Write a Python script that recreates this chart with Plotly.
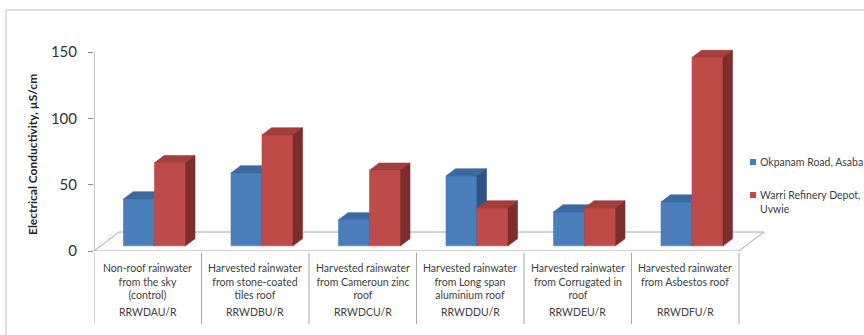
import plotly.graph_objects as go

# ---- data -------------------------------------------------------------
descriptions = [
    "Non-roof rainwater<br>from the sky<br>(control)",
    "Harvested rainwater<br>from stone-coated<br>tiles roof",
    "Harvested rainwater<br>from Cameroun zinc<br>roof",
    "Harvested rainwater<br>from Long span<br>aluminium roof",
    "Harvested rainwater<br>from Corrugated in<br>roof",
    "Harvested rainwater<br>from Asbestos roof",
]
codes = ["RRWDAU/R", "RRWDBU/R", "RRWDCU/R", "RRWDDU/R", "RRWDEU/R", "RRWDFU/R"]
series_names = ["Okpanam Road, Asaba", "Warri Refinery Depot,<br>Uvwie"]
okpanam = [35.4, 55.0, 19.6, 52.7, 25.6, 33.0]
warri = [62.6, 83.6, 57.0, 28.6, 28.6, 142.0]
y_ticks = [0, 50, 100, 150]

# ---- layout geometry (pixels) ------------------------------------------
FIG_W, FIG_H = 864, 335
L, R, T, B = 94, 766, 44, 251
PW, PH = R - L, B - T
CAT_PX = 107.5
PX_PER_UNIT = 1.3267
X_MAX = -0.5 + PW / CAT_PX
Y_MAX = PH / PX_PER_UNIT


def px_x(px):
    return (px - L) / PW


def px_y(py):
    return (B - py) / PH


# oblique 3-D projection, expressed in axis units
FLOOR_DX = 25 / CAT_PX
FLOOR_DY = 19 / PX_PER_UNIT
FRONT = 0.27          # depth fraction where bar front faces sit
DEPTH = 0.38          # bar depth as fraction of floor depth
BAR_W = 31 / CAT_PX

off_x, off_y = FRONT * FLOOR_DX, FRONT * FLOOR_DY
dd_x, dd_y = DEPTH * FLOOR_DX, DEPTH * FLOOR_DY

palette = [
    dict(front="#4A7EBB", top="#3C69A1", side="#2D5384"),
    dict(front="#BE4B48", top="#A23E3B", side="#7D2D2B"),
]

fig = go.Figure()


def faces(values, shift):
    front, top, side = [[], []], [[], []], [[], []]
    for i, v in enumerate(values):
        x0 = i + off_x + shift
        x1 = x0 + BAR_W
        b = off_y
        t = off_y + v
        for poly, xs, ys in (
            (front, [x0, x1, x1, x0, x0], [b, b, t, t, b]),
            (top, [x0, x1, x1 + dd_x, x0 + dd_x, x0], [t, t, t + dd_y, t + dd_y, t]),
            (side, [x1, x1 + dd_x, x1 + dd_x, x1, x1], [b, b + dd_y, t + dd_y, t, b]),
        ):
            poly[0] += xs + [None]
            poly[1] += ys + [None]
    return front, top, side


for s, (name, vals) in enumerate(zip(series_names, [okpanam, warri])):
    shift = -BAR_W if s == 0 else 0.0
    front, top, side = faces(vals, shift)
    for key, poly in (("front", front), ("top", top), ("side", side)):
        fig.add_trace(go.Scatter(
            x=poly[0], y=poly[1], mode="lines", fill="toself",
            fillcolor=palette[s][key],
            line=dict(width=0.6, color=palette[s][key]),
            name=name.replace("<br>", " "), showlegend=False,
            hoverinfo="skip" if key != "front" else "name",
        ))

shapes = []
# floor of the 3-D plot area
floor_x = [-0.5, -0.5 + FLOOR_DX, 5.5 + FLOOR_DX, 5.5]
floor_y = [0, FLOOR_DY, FLOOR_DY, 0]
path = "M " + " L ".join(f"{x},{y}" for x, y in zip(floor_x, floor_y)) + " Z"
shapes.append(dict(type="path", path=path, xref="x", yref="y", layer="below",
                   line=dict(color="#A6A6A6", width=1), fillcolor="white"))
# value axis line
shapes.append(dict(type="line", xref="x", yref="y", x0=-0.5, x1=-0.5, y0=0, y1=150,
                   line=dict(color="#8C8C8C", width=1)))
# category table dividers
for k in range(7):
    shapes.append(dict(type="line", xref="x", yref="paper", x0=k - 0.5, x1=k - 0.5,
                       y0=px_y(253), y1=px_y(324), line=dict(color="#A6A6A6", width=1)))
# chart frame
shapes.append(dict(type="rect", xref="paper", yref="paper",
                   x0=px_x(6), x1=px_x(900), y0=px_y(400), y1=px_y(10),
                   line=dict(color="#BFBFBF", width=1), fillcolor="rgba(0,0,0,0)"))
# legend keys
for s, cy in enumerate([162, 195]):
    shapes.append(dict(type="rect", xref="paper", yref="paper",
                       x0=px_x(750), x1=px_x(756), y0=px_y(cy + 3), y1=px_y(cy - 3),
                       line=dict(width=0), fillcolor=palette[s]["front"]))

FONT = "Lato, 'Open Sans', sans-serif"
TXT = dict(family=FONT, size=10.5, color="#404040")
LEG = dict(family=FONT, size=10.5, color="#404040")
annotations = []
for i, (d, c) in enumerate(zip(descriptions, codes)):
    annotations.append(dict(x=i, y=px_y(260), xref="x", yref="paper", text=d,
                            showarrow=False, xanchor="center", yanchor="top",
                            align="center", font=TXT))
    annotations.append(dict(x=i, y=px_y(312), xref="x", yref="paper", text=c,
                            showarrow=False, xanchor="center", yanchor="middle",
                            font=TXT))
annotations.append(dict(x=px_x(758), y=px_y(162), xref="paper", yref="paper",
                        text=series_names[0], showarrow=False, xanchor="left",
                        yanchor="middle", font=LEG))
annotations.append(dict(x=px_x(758), y=px_y(187), xref="paper", yref="paper",
                        text=series_names[1], showarrow=False, xanchor="left",
                        yanchor="top", align="left", font=LEG))
annotations.append(dict(x=px_x(32), y=px_y(155), xref="paper", yref="paper",
                        text="<b>Electrical Conductivity, µS/cm</b>", textangle=-90,
                        showarrow=False, xanchor="center", yanchor="middle",
                        font=dict(family=FONT, size=12, color="#262626")))

fig.update_layout(
    width=FIG_W, height=FIG_H,
    margin=dict(l=L, r=FIG_W - R, t=T, b=FIG_H - B, autoexpand=False),
    paper_bgcolor="white", plot_bgcolor="rgba(0,0,0,0)",
    showlegend=False,
    shapes=shapes, annotations=annotations,
    xaxis=dict(range=[-0.5, X_MAX], visible=False, fixedrange=True),
    yaxis=dict(range=[0, Y_MAX], tickvals=y_ticks, ticks="outside", ticklen=5,
               tickcolor="#8C8C8C", showgrid=False, zeroline=False, showline=False,
               ticklabelstandoff=8,
               tickfont=dict(family=FONT, size=15, color="#333333"),
               fixedrange=True),
)

fig.write_html("out.html")
